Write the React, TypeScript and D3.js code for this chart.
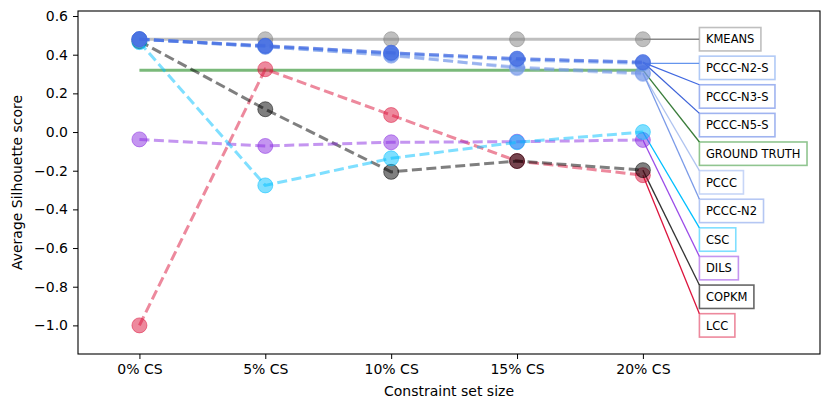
import { useRef, useEffect } from 'react';
import * as d3 from 'd3';

const categories = ['0% CS', '5% CS', '10% CS', '15% CS', '20% CS'];

const kmeans = [0.48, 0.48, 0.48, 0.48, 0.48];
const groundTruth = [0.32, 0.32, 0.32, 0.32, 0.32];
const lcc = [-1.0, 0.325, 0.088, -0.15, -0.223];
const copkm = [0.47, 0.118, -0.206, -0.15, -0.197];
const dils = [-0.038, -0.072, -0.053, -0.05, -0.041];
const csc = [0.465, -0.276, -0.136, -0.053, 0.0];
const pccc = [0.48, 0.44, 0.4, 0.33, 0.3];
const pcccN2 = [0.48, 0.442, 0.395, 0.335, 0.305];
const pcccN2S = [0.48, 0.443, 0.405, 0.372, 0.355];
const pcccN3S = [0.48, 0.445, 0.41, 0.378, 0.36];
const pcccN5S = [0.48, 0.447, 0.41, 0.38, 0.362];

const yTicks = [0.6, 0.4, 0.2, 0.0, -0.2, -0.4, -0.6, -0.8, -1.0];

type Series = {
  name: string;
  values: number[];
  color: string;
  lineColor: string;
  dashed: boolean;
  markers: boolean;
};

// drawing order (later on top)
const series: Series[] = [
  { name: 'GROUND TRUTH', values: groundTruth, color: '#228b22', lineColor: '#3a7d3a', dashed: false, markers: false },
  { name: 'KMEANS', values: kmeans, color: '#808080', lineColor: '#888888', dashed: false, markers: true },
  { name: 'LCC', values: lcc, color: '#dc143c', lineColor: '#dc143c', dashed: true, markers: true },
  { name: 'COPKM', values: copkm, color: '#000000', lineColor: '#333333', dashed: true, markers: true },
  { name: 'DILS', values: dils, color: '#8a2be2', lineColor: '#9b4be8', dashed: true, markers: true },
  { name: 'CSC', values: csc, color: '#00bfff', lineColor: '#00bfff', dashed: true, markers: true },
  { name: 'PCCC', values: pccc, color: '#8faef0', lineColor: '#b0c4f0', dashed: true, markers: true },
  { name: 'PCCC-N2', values: pcccN2, color: '#6b8fe8', lineColor: '#7b9be8', dashed: true, markers: true },
  { name: 'PCCC-N2-S', values: pcccN2S, color: '#6495ed', lineColor: '#6495ed', dashed: true, markers: true },
  { name: 'PCCC-N3-S', values: pcccN3S, color: '#4169e1', lineColor: '#4169e1', dashed: true, markers: true },
  { name: 'PCCC-N5-S', values: pcccN5S, color: '#4169e1', lineColor: '#3d62d8', dashed: true, markers: true },
];

// label order top to bottom
const labelOrder = ['KMEANS', 'PCCC-N2-S', 'PCCC-N3-S', 'PCCC-N5-S', 'GROUND TRUTH', 'PCCC', 'PCCC-N2', 'CSC', 'DILS', 'COPKM', 'LCC'];

const W = 831;
const H = 409;
const FONT = '"DejaVu Sans", sans-serif';

export default function App() {
  const svgRef = useRef<SVGSVGElement>(null);

  useEffect(() => {
    if (!svgRef.current) return;
    const svg = d3.select(svgRef.current);
    svg.selectAll('*').remove();

    const left = 78;
    const right = 820;
    const top = 11;
    const bottom = 354;

    const x = d3.scaleLinear().domain([-0.488, 5.407]).range([left, right]);
    const y = d3.scaleLinear().domain([-1.148, 0.626]).range([bottom, top]);

    // axes
    const xAxis = svg
      .append('g')
      .attr('transform', `translate(0,${bottom})`)
      .call(
        d3
          .axisBottom(x)
          .tickValues(d3.range(categories.length))
          .tickFormat((d) => categories[d as number])
          .tickSize(5)
          .tickPadding(5)
      );
    xAxis.select('.domain').remove();
    xAxis.selectAll('text').attr('font-size', 14).attr('font-family', FONT).attr('fill', '#000');
    xAxis.selectAll('line').attr('stroke', '#000').attr('stroke-width', 1);

    const yAxis = svg
      .append('g')
      .attr('transform', `translate(${left},0)`)
      .call(
        d3
          .axisLeft(y)
          .tickValues(yTicks)
          .tickFormat((d) => d3.format('.1f')(d as number).replace('-', '\u2212'))
          .tickSize(5)
          .tickPadding(5)
      );
    yAxis.select('.domain').remove();
    yAxis.selectAll('text').attr('font-size', 14).attr('font-family', FONT).attr('fill', '#000');
    yAxis.selectAll('line').attr('stroke', '#000').attr('stroke-width', 1);

    svg
      .append('rect')
      .attr('x', left)
      .attr('y', top)
      .attr('width', right - left)
      .attr('height', bottom - top)
      .attr('fill', 'none')
      .attr('stroke', '#000')
      .attr('stroke-width', 1.1);

    svg
      .append('text')
      .attr('x', (left + right) / 2)
      .attr('y', 396)
      .attr('text-anchor', 'middle')
      .attr('font-size', 14)
      .attr('font-family', FONT)
      .text('Constraint set size');

    svg
      .append('text')
      .attr('transform', `translate(22,${(top + bottom) / 2}) rotate(-90)`)
      .attr('text-anchor', 'middle')
      .attr('font-size', 14)
      .attr('font-family', FONT)
      .text('Average Silhouette score');

    // annotation labels, spread evenly between overall max and min
    const last = categories.length - 1;
    const allVals = series.flatMap((s) => s.values);
    const maxV = d3.max(allVals) ?? 0;
    const minV = d3.min(allVals) ?? 0;
    const labelVals = d3.range(labelOrder.length).map((i) => maxV - ((maxV - minV) * i) / (labelOrder.length - 1));
    const boxX = x(4.449);
    const boxH = 23.4;

    const annG = svg.append('g');
    labelOrder.forEach((name, i) => {
      const s = series.find((d) => d.name === name)!;
      const cy = y(labelVals[i]);
      const bTop = cy - boxH / 2;
      const bBot = cy + boxH / 2;
      const px = x(last);
      const py = y(s.values[last]);
      const ey = Math.max(bTop, Math.min(bBot, py));
      annG
        .append('line')
        .attr('x1', px)
        .attr('y1', py)
        .attr('x2', boxX)
        .attr('y2', ey)
        .attr('stroke', s.lineColor)
        .attr('stroke-width', 1.3);
      const box = annG.append('rect');
      const t = annG
        .append('text')
        .attr('x', boxX + 6.5)
        .attr('y', cy + 4.2)
        .attr('font-size', 11.5)
        .attr('font-family', FONT)
        .attr('fill', '#000')
        .text(name);
      const tw = (t.node() as SVGTextElement).getComputedTextLength();
      box
        .attr('x', boxX)
        .attr('y', bTop)
        .attr('width', tw + 13)
        .attr('height', boxH)
        .attr('fill', '#fff')
        .attr('stroke', s.color)
        .attr('stroke-opacity', s.name === 'COPKM' ? 0.6 : 0.5)
        .attr('stroke-width', 1.6);
    });

    // series
    const line = d3
      .line<number>()
      .x((_, i) => x(i))
      .y((d) => y(d));

    series.forEach((s) => {
      const g = svg.append('g');
      g.append('path')
        .datum(s.values)
        .attr('d', line)
        .attr('fill', 'none')
        .attr('stroke', s.color)
        .attr('stroke-opacity', s.name === 'GROUND TRUTH' ? 0.6 : 0.5)
        .attr('stroke-width', 3)
        .attr('stroke-dasharray', s.dashed ? '10,4.5' : null);
      if (s.markers) {
        g.selectAll('circle')
          .data(s.values)
          .join('circle')
          .attr('cx', (_, i) => x(i))
          .attr('cy', (d) => y(d))
          .attr('r', 7.5)
          .attr('fill', s.color)
          .attr('fill-opacity', 0.5)
          .attr('stroke', s.color)
          .attr('stroke-opacity', 0.5)
          .attr('stroke-width', 1);
      }
    });
  }, []);

  return (
    <svg
      ref={svgRef}
      width={W}
      height={H}
      style={{ position: 'absolute', left: 0, top: 0, background: '#fff' }}
    />
  );
}
